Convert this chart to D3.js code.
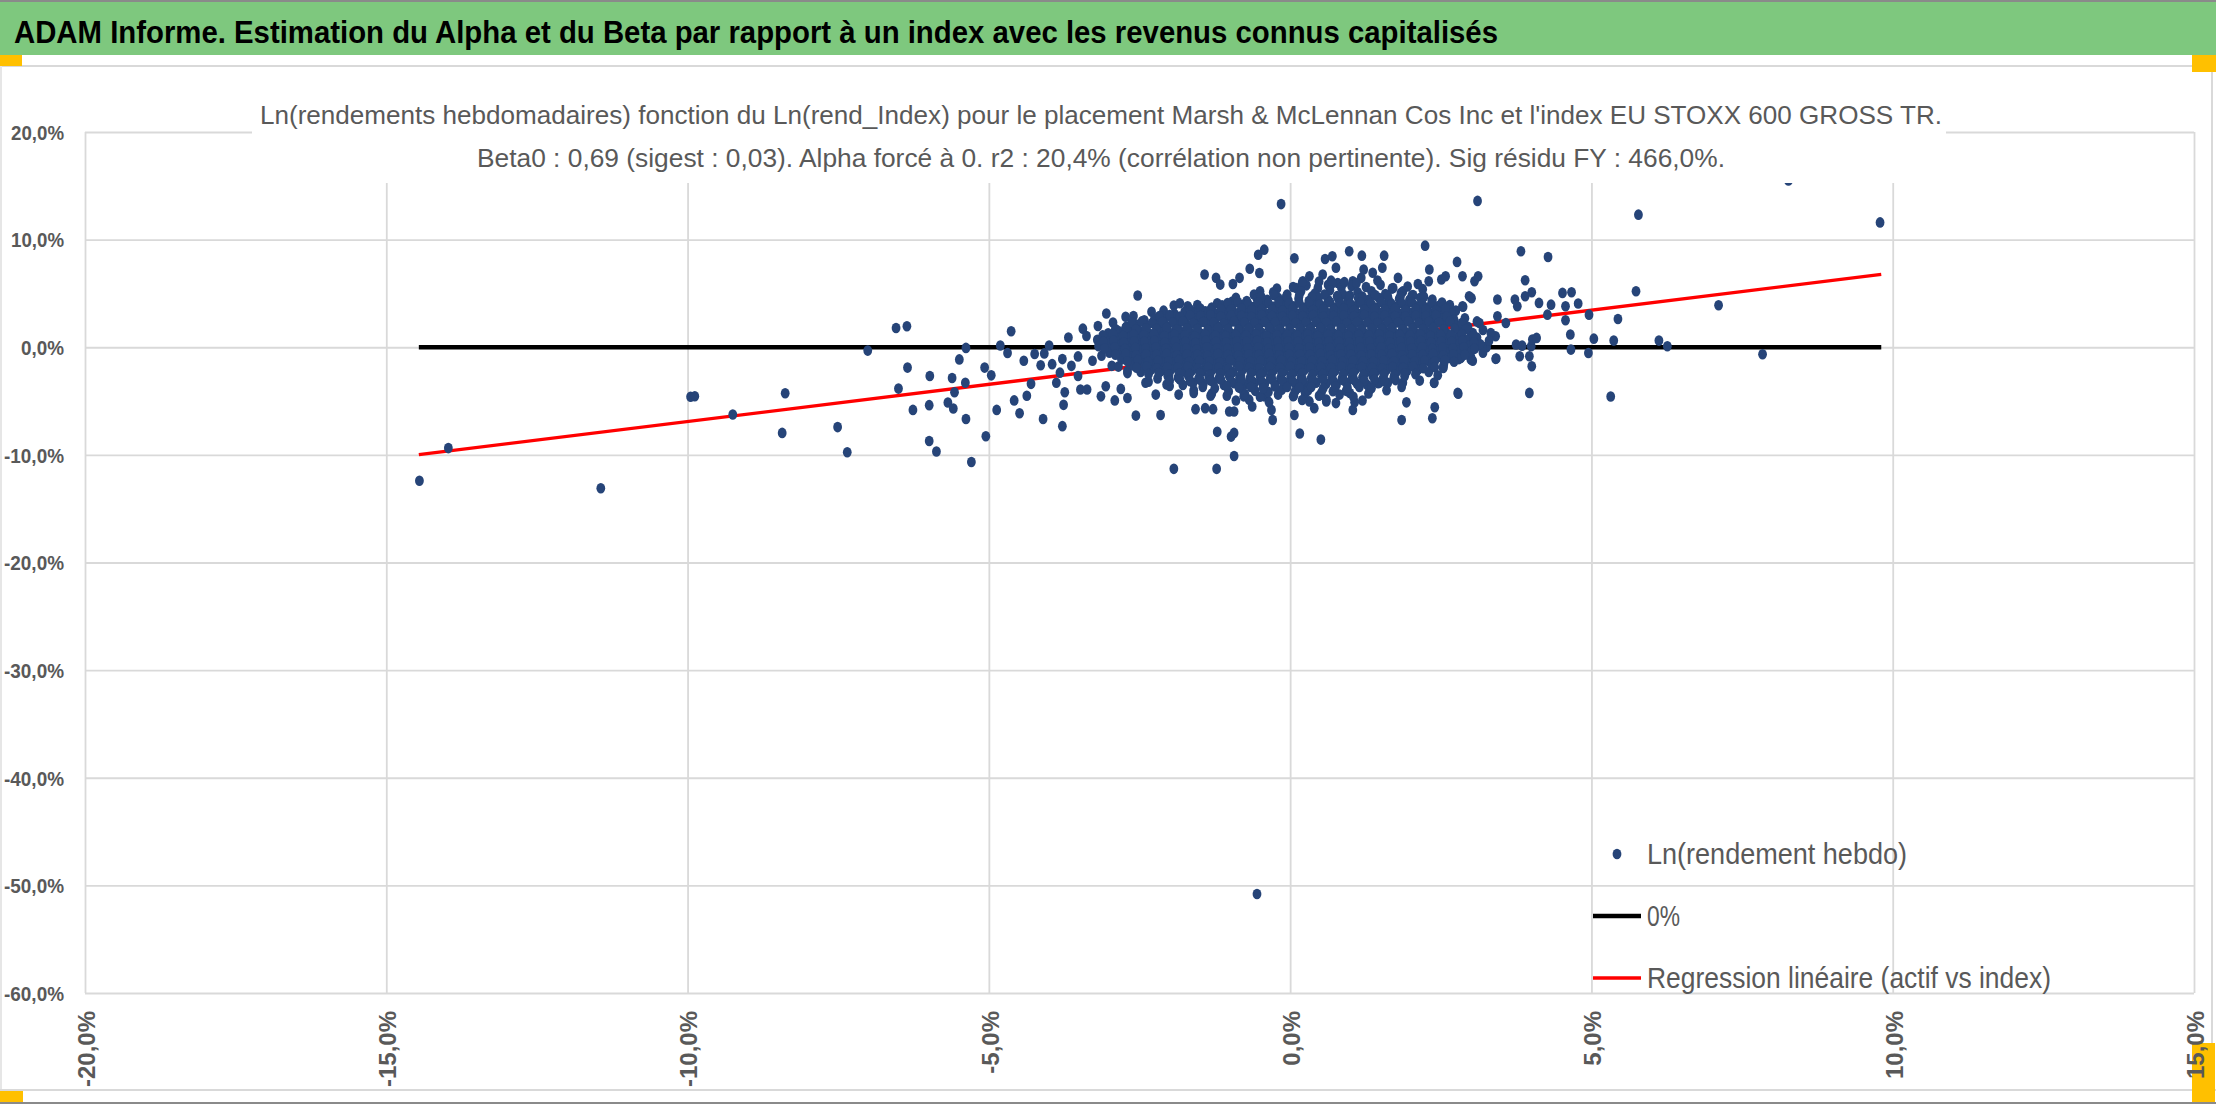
<!DOCTYPE html>
<html>
<head>
<meta charset="utf-8">
<script src="https://cdn.jsdelivr.net/npm/d3@7"></script>
<style>
  body { margin: 0; background: #fff; }
  svg { display: block; }
</style>
</head>
<body>
<script>
// -----------------------------
// Data (values in %)
// -----------------------------
const pageTitle = "ADAM Informe. Estimation du Alpha et du Beta par rapport à un index avec les revenus connus capitalisés";
const chartTitle = [
  "Ln(rendements hebdomadaires) fonction du Ln(rend_Index) pour le placement Marsh & McLennan Cos Inc et l'index EU STOXX 600 GROSS TR.",
  "Beta0 : 0,69 (sigest : 0,03). Alpha forcé à 0. r2 : 20,4% (corrélation non pertinente). Sig résidu FY : 466,0%."
];
const yTicks = [20, 10, 0, -10, -20, -30, -40, -50, -60];
const xTicks = [-20, -15, -10, -5, 0, 5, 10, 15];
const legendLabels = ["Ln(rendement hebdo)", "0%", "Regression linéaire (actif vs index)"];

const beta0 = 0.69;               // slope of the fit, alpha forced to 0
const fitRange = [-14.46, 9.81];  // x extent of the 0% line and the fit

// scattered weeks [index, asset]
const outerPoints = [
  [-14.45,-12.4],[-13.97,-9.37],[-11.44,-13.1],[-9.95,-4.6],[-9.88,-4.55],[-9.25,-6.25],[-8.38,-4.28],
  [-8.43,-7.96],[-7.51,-7.42],[-7.35,-9.75],[-7.01,-0.31],[-6.54,1.79],[-6.5,-3.84],
  [-6.36,1.95],[-6.35,-1.89],[-6.26,-5.82],[-5.98,-2.67],[-5.99,-5.38],[-5.99,-8.71],[-5.87,-9.69],
  [-5.61,-2.86],[-5.68,-5.13],[-5.59,-5.69],[-5.57,-4.18],[-5.49,-1.13],[-5.38,-0.06],[-5.39,-3.3],
  [-5.38,-6.67],[-5.29,-10.66],[-5.07,-1.89],[-4.96,-2.61],[-5.05,-8.27],[-4.87,-5.82],[-4.81,0.16],
  [-4.69,-0.53],[-4.63,1.48],[-4.58,-4.94],[-4.49,-6.13],[-4.42,-1.26],[-4.37,-4.5],[-4.3,-3.4],
  [-4.24,-0.63],[-4.1,-6.67],[-4.08,-0.57],[-4.14,-1.67],[-4.0,0.16],[-3.95,-1.57],[-3.88,-3.3],
  [-3.82,-2.36],[-3.78,-1.1],[-3.74,-4.18],[-3.76,-5.35],[-3.78,-7.33],[-3.68,0.91],[-3.63,-1.73],
  [-3.52,-0.85],[-3.52,-2.67],[-3.48,-3.93],[-3.44,1.73],[-3.38,1.04],[-3.37,-3.93],[-3.28,-1.26],
  [-3.19,1.98],[-3.13,-0.79],[-3.14,-4.56],[-3.05,3.14],[-3.06,-3.62],[-2.98,0.79],[-2.94,2.3],
  [-2.96,-1.73],[-2.91,-4.94],[-2.81,-3.87],[-2.73,2.83],[-2.69,1.73],[-2.7,-4.72],[-2.78,-1.1],
  [-2.7,-2.2],[-2.56,-6.35],[-2.53,4.81],[-2.59,0.47],[-2.43,1.48],[-2.45,-1.1],[-2.4,-3.3],
  [-2.3,3.3],[-2.26,-0.47],[-2.23,-4.4],[-2.15,-6.29],[-2.12,1.73],[-2.09,-1.73],[-2.05,-3.46],
  [-1.93,3.87],[-1.93,-11.3],[-1.83,4.09],[-1.9,1.57],[-1.87,-1.1],[-1.85,-4.4],[-1.76,0.47],
  [-1.71,-2.36],[-1.6,-4.25],[-1.57,-5.75],[-1.54,3.93],[-1.48,1.26],[-1.42,6.76],[-1.41,-5.66],
  [-1.32,-4.5],[-1.28,-5.75],[-1.23,6.45],[-1.21,-7.86],[-1.22,-11.3],[-1.16,5.82],[-1.21,4.09],
  [-1.12,3.14],[-0.98,-8.3],[-0.93,-7.96],[-0.93,-10.1],[-1.01,-5.97],[-0.93,-5.97],[-0.96,4.25],
  [-0.95,5.88],[-0.84,6.45],[-0.67,7.3],[-0.53,8.6],[-0.51,6.9],[-0.6,3.77],[-0.63,-5.5],[-0.77,-4.56],
  [-0.68,-4.87],[-0.43,-4.56],[-0.29,-6.76],[-0.31,-5.82],[0.06,-4.5],[0.07,-6.29],[0.16,-8.02],
  [0.51,-8.58],[0.32,-5.03],[0.4,-5.66],[0.6,-5.03],[0.71,-4.09],[0.76,-5.19],[0.99,-4.25],[1.04,-5.82],
  [1.07,-5.12],[1.15,-3.46],[1.48,-3.3],[1.87,-3.3],[1.93,-5.12],[1.85,-6.76],[2.36,-6.6],[2.4,-5.57],
  [2.39,-3.3],[2.54,-1.89],[2.79,-4.31],[2.84,-0.94],[3.03,-1.26],[3.26,0.0],[3.42,-1.04],
  [-0.26,3.77],[-0.07,4.56],[0.1,5.5],[0.21,6.13],[0.32,6.6],[0.54,6.76],[0.68,6.19],[0.79,5.97],
  [0.76,7.39],[1.04,6.13],[1.18,6.45],[1.37,6.92],[1.53,7.39],[1.22,7.23],[1.79,6.45],[2.12,5.88],
  [2.3,6.13],[2.31,7.23],[2.51,6.29],[2.58,6.6],[2.86,6.6],[3.06,6.13],[3.12,6.6],[3.01,4.56],
  [2.87,3.77],[2.65,3.93],[1.71,5.5],[1.87,5.19],
  [-0.15,13.3],[3.11,13.6],[-0.43,9.07],[0.07,8.27],[0.58,8.2],[0.7,8.45],[0.98,8.92],[1.19,8.51],
  [1.56,8.51],[2.24,9.44],[2.77,7.93],[3.83,8.92],[4.28,8.39],[3.9,6.22],[3.9,4.74],[4.01,5.11],
  [4.52,5.05],[4.67,5.11],[4.78,4.06],[4.13,4.12],[4.33,3.96],[4.96,3.03],[4.57,3.81],[4.27,3.03],
  [4.57,2.51],[3.77,3.81],[3.73,4.43],[3.58,2.26],[3.44,4.43],[3.44,2.88],[3.41,1.02],[3.33,1.33],
  [3.14,2.26],[2.97,4.74],[2.86,3.81],[3.03,1.33],[3.19,0.09],[3.07,-0.06],[3.41,-1.08],[3.75,0.25],
  [3.85,0.15],[4.0,0.09],[4.02,0.71],[4.09,0.87],[4.01,-1.76],[3.81,-0.84],[3.97,-0.84],[4.66,-0.22],
  [4.65,1.18],[4.95,-0.53],[5.04,0.8],[3.97,-4.24],[2.78,-4.24],[2.83,-0.99],[3.0,-1.15],[2.7,-0.22],
  [2.54,-1.92],[2.39,-3.31],[2.64,0.71],[2.7,2.88],[2.53,3.81],[2.36,4.43],
  [5.78,12.32],[9.79,11.6],[8.27,15.5],[5.74,5.2],[7.11,3.9],[5.44,2.63],[5.37,0.62],[6.12,0.62],
  [6.26,0.09],[7.84,-0.65],[5.32,-4.58],
  [-0.55,-50.8]
];

// ragged edge of the dense cloud [index, asset]
const edgePoints = [
  [0.05,5.6],[0.27,5.75],[0.46,5.5],[0.63,5.8],[0.85,5.55],[1.02,5.7],[1.26,5.6],[1.5,5.8],[1.69,5.45],[1.95,5.65],
  [2.2,5.4],[-0.22,5.45],[-0.5,5.2],[0.2,6.0],[0.48,6.1],[0.9,6.05],[1.45,6.2],[1.1,5.95],[0.7,5.95],
  [-1.7,3.8],[-2.1,3.4],[-2.6,2.9],[-0.9,4.6],[-0.6,4.9],
  [2.75,3.4],[2.9,2.7],[3.1,2.4],[3.2,1.6],[3.3,0.6],[3.2,-0.5],[3.0,-0.9],
  [-1.3,-4.3],[-1.05,-4.5],[-0.75,-4.35],[-0.5,-4.6],[-0.2,-4.4],[0.05,-4.55],[0.25,-4.3],[0.48,-4.5],[0.82,-4.4],
  [1.05,-4.6],[1.3,-4.3],[1.6,-4.0],[1.85,-3.7],[2.15,-3.1],[2.45,-2.6],[-1.6,-4.0],[-2.0,-3.6],[-2.35,-3.2],
  [-2.7,-2.4],[-2.85,-1.8],
  [-0.9,-4.95],[-0.35,-5.1],[0.2,-4.9],[0.6,-4.85],[1.2,-4.95]
];

// dense cloud of weeks around the origin [index, asset]
const corePoints = [
  [-0.28,5.1],[-0.05,4.9],[0.18,5.2],[0.41,5.0],[0.66,5.3],[0.88,4.9],[1.12,5.1],[1.35,5.2],[1.58,4.95],[1.84,5.05],[2.02,4.8],
  [-0.72,4.3],[-0.55,4.5],[-0.38,4.4],[-0.2,4.6],[-0.03,4.35],[0.14,4.5],[0.31,4.3],[0.47,4.6],[0.63,4.4],[0.8,4.5],
  [0.96,4.3],[1.13,4.55],[1.3,4.4],[1.47,4.6],[1.64,4.3],[1.81,4.5],[1.98,4.4],[2.16,4.6],[2.35,4.3],
  [-1.3,3.7],[-1.13,3.9],[-0.96,3.8],[-0.79,3.95],[-0.62,3.7],[-0.45,3.85],[-0.28,3.75],[-0.11,3.9],[0.06,3.8],[0.23,3.7],
  [0.4,3.95],[0.57,3.8],[0.74,3.7],[0.91,3.85],[1.08,3.8],[1.25,3.95],[1.42,3.7],[1.59,3.85],[1.76,3.75],[1.93,3.9],
  [2.1,3.8],[2.28,3.7],[2.47,3.85],[2.6,3.7],
  [-1.92,3.1],[-1.75,3.3],[-1.58,3.2],[-1.41,3.35],[-1.24,3.1],[-1.07,3.25],[-0.9,3.15],[-0.73,3.3],[-0.56,3.2],[-0.39,3.1],
  [-0.22,3.35],[-0.05,3.2],[0.12,3.1],[0.29,3.3],[0.46,3.2],[0.63,3.15],[0.8,3.3],[0.97,3.2],[1.14,3.1],[1.31,3.25],
  [1.48,3.2],[1.65,3.35],[1.82,3.1],[1.99,3.2],[2.16,3.3],[2.33,3.15],[2.5,3.2],[2.68,3.1],
  [-2.42,2.5],[-2.25,2.7],[-2.08,2.6],[-1.91,2.75],[-1.74,2.5],[-1.57,2.65],[-1.4,2.55],[-1.23,2.7],[-1.06,2.6],[-0.89,2.5],
  [-0.72,2.75],[-0.55,2.6],[-0.38,2.5],[-0.21,2.7],[-0.04,2.6],[0.13,2.55],[0.3,2.7],[0.47,2.6],[0.64,2.5],[0.81,2.65],
  [0.98,2.6],[1.15,2.75],[1.32,2.5],[1.49,2.6],[1.66,2.7],[1.83,2.55],[2.0,2.6],[2.17,2.7],[2.34,2.5],[2.52,2.65],[2.72,2.55],
  [-2.72,1.9],[-2.55,2.1],[-2.38,2.0],[-2.21,2.15],[-2.04,1.9],[-1.87,2.05],[-1.7,1.95],[-1.53,2.1],[-1.36,2.0],[-1.19,1.9],
  [-1.02,2.15],[-0.85,2.0],[-0.68,1.9],[-0.51,2.1],[-0.34,2.0],[-0.17,1.95],[0.0,2.1],[0.17,2.0],[0.34,1.9],[0.51,2.05],
  [0.68,2.0],[0.85,2.15],[1.02,1.9],[1.19,2.0],[1.36,2.1],[1.53,1.95],[1.7,2.0],[1.87,2.1],[2.04,1.9],[2.21,2.05],
  [2.38,1.95],[2.56,2.1],[2.75,2.0],[2.95,1.9],
  [-3.02,1.3],[-2.85,1.5],[-2.68,1.4],[-2.51,1.55],[-2.34,1.3],[-2.17,1.45],[-2.0,1.35],[-1.83,1.5],[-1.66,1.4],[-1.49,1.3],
  [-1.32,1.55],[-1.15,1.4],[-0.98,1.3],[-0.81,1.5],[-0.64,1.4],[-0.47,1.35],[-0.3,1.5],[-0.13,1.4],[0.04,1.3],[0.21,1.45],
  [0.38,1.4],[0.55,1.55],[0.72,1.3],[0.89,1.4],[1.06,1.5],[1.23,1.35],[1.4,1.4],[1.57,1.5],[1.74,1.3],[1.91,1.45],
  [2.08,1.35],[2.25,1.5],[2.42,1.4],[2.6,1.3],[2.8,1.5],[3.0,1.35],
  [-3.2,0.7],[-3.03,0.9],[-2.86,0.8],[-2.69,0.95],[-2.52,0.7],[-2.35,0.85],[-2.18,0.75],[-2.01,0.9],[-1.84,0.8],[-1.67,0.7],
  [-1.5,0.95],[-1.33,0.8],[-1.16,0.7],[-0.99,0.9],[-0.82,0.8],[-0.65,0.75],[-0.48,0.9],[-0.31,0.8],[-0.14,0.7],[0.03,0.85],
  [0.2,0.8],[0.37,0.95],[0.54,0.7],[0.71,0.8],[0.88,0.9],[1.05,0.75],[1.22,0.8],[1.39,0.9],[1.56,0.7],[1.73,0.85],
  [1.9,0.75],[2.07,0.9],[2.24,0.8],[2.41,0.7],[2.58,0.9],[2.76,0.8],[2.94,0.7],[3.1,0.9],
  [-3.18,0.1],[-3.01,0.3],[-2.84,0.2],[-2.67,0.35],[-2.5,0.1],[-2.33,0.25],[-2.16,0.15],[-1.99,0.3],[-1.82,0.2],[-1.65,0.1],
  [-1.48,0.35],[-1.31,0.2],[-1.14,0.1],[-0.97,0.3],[-0.8,0.2],[-0.63,0.15],[-0.46,0.3],[-0.29,0.2],[-0.12,0.1],[0.05,0.25],
  [0.22,0.2],[0.39,0.35],[0.56,0.1],[0.73,0.2],[0.9,0.3],[1.07,0.15],[1.24,0.2],[1.41,0.3],[1.58,0.1],[1.75,0.25],
  [1.92,0.15],[2.09,0.3],[2.26,0.2],[2.43,0.1],[2.6,0.3],[2.78,0.2],[2.96,0.1],[3.15,0.3],
  [-3.0,-0.5],[-2.83,-0.3],[-2.66,-0.4],[-2.49,-0.25],[-2.32,-0.5],[-2.15,-0.35],[-1.98,-0.45],[-1.81,-0.3],[-1.64,-0.4],[-1.47,-0.5],
  [-1.3,-0.25],[-1.13,-0.4],[-0.96,-0.5],[-0.79,-0.3],[-0.62,-0.4],[-0.45,-0.45],[-0.28,-0.3],[-0.11,-0.4],[0.06,-0.5],[0.23,-0.35],
  [0.4,-0.4],[0.57,-0.25],[0.74,-0.5],[0.91,-0.4],[1.08,-0.3],[1.25,-0.45],[1.42,-0.4],[1.59,-0.3],[1.76,-0.5],[1.93,-0.35],
  [2.1,-0.45],[2.27,-0.3],[2.44,-0.4],[2.62,-0.5],[2.8,-0.3],[2.98,-0.45],
  [-2.8,-1.1],[-2.63,-0.9],[-2.46,-1.0],[-2.29,-0.85],[-2.12,-1.1],[-1.95,-0.95],[-1.78,-1.05],[-1.61,-0.9],[-1.44,-1.0],[-1.27,-1.1],
  [-1.1,-0.85],[-0.93,-1.0],[-0.76,-1.1],[-0.59,-0.9],[-0.42,-1.0],[-0.25,-1.05],[-0.08,-0.9],[0.09,-1.0],[0.26,-1.1],[0.43,-0.95],
  [0.6,-1.0],[0.77,-0.85],[0.94,-1.1],[1.11,-1.0],[1.28,-0.9],[1.45,-1.05],[1.62,-1.0],[1.79,-0.9],[1.96,-1.1],[2.13,-0.95],
  [2.3,-1.05],[2.47,-0.9],[2.64,-1.0],[2.8,-1.1],
  [-2.6,-1.7],[-2.43,-1.5],[-2.26,-1.6],[-2.09,-1.45],[-1.92,-1.7],[-1.75,-1.55],[-1.58,-1.65],[-1.41,-1.5],[-1.24,-1.6],[-1.07,-1.7],
  [-0.9,-1.45],[-0.73,-1.6],[-0.56,-1.7],[-0.39,-1.5],[-0.22,-1.6],[-0.05,-1.65],[0.12,-1.5],[0.29,-1.6],[0.46,-1.7],[0.63,-1.55],
  [0.8,-1.6],[0.97,-1.45],[1.14,-1.7],[1.31,-1.6],[1.48,-1.5],[1.65,-1.65],[1.82,-1.6],[1.99,-1.5],[2.16,-1.7],[2.34,-1.55],[2.55,-1.6],
  [-2.48,-2.3],[-2.31,-2.1],[-2.14,-2.2],[-1.97,-2.05],[-1.8,-2.3],[-1.63,-2.15],[-1.46,-2.25],[-1.29,-2.1],[-1.12,-2.2],[-0.95,-2.3],
  [-0.78,-2.05],[-0.61,-2.2],[-0.44,-2.3],[-0.27,-2.1],[-0.1,-2.2],[0.07,-2.25],[0.24,-2.1],[0.41,-2.2],[0.58,-2.3],[0.75,-2.15],
  [0.92,-2.2],[1.09,-2.05],[1.26,-2.3],[1.43,-2.2],[1.6,-2.1],[1.77,-2.25],[1.94,-2.2],[2.12,-2.1],[2.3,-2.3],
  [-2.2,-2.9],[-2.03,-2.7],[-1.86,-2.8],[-1.69,-2.65],[-1.52,-2.9],[-1.35,-2.75],[-1.18,-2.85],[-1.01,-2.7],[-0.84,-2.8],[-0.67,-2.9],
  [-0.5,-2.65],[-0.33,-2.8],[-0.16,-2.9],[0.01,-2.7],[0.18,-2.8],[0.35,-2.85],[0.52,-2.7],[0.69,-2.8],[0.86,-2.9],[1.03,-2.75],
  [1.2,-2.8],[1.37,-2.65],[1.54,-2.9],[1.72,-2.8],[1.9,-2.7],
  [-1.78,-3.5],[-1.61,-3.3],[-1.44,-3.4],[-1.27,-3.25],[-1.1,-3.5],[-0.93,-3.35],[-0.76,-3.45],[-0.59,-3.3],[-0.42,-3.4],[-0.25,-3.5],
  [-0.08,-3.25],[0.09,-3.4],[0.26,-3.5],[0.43,-3.3],[0.6,-3.4],[0.77,-3.45],[0.94,-3.3],[1.11,-3.4],[1.28,-3.5],[1.46,-3.35],[1.62,-3.3],
  [-1.02,-4.1],[-0.8,-3.9],[-0.58,-4.05],[-0.36,-4.15],[-0.14,-3.95],[0.08,-4.1],[0.3,-4.0],[0.52,-4.2],[0.74,-3.9],[0.93,-4.05]
];

// more weeks inside the dense cloud, between the rows above [index, asset]
const coreFillPoints = [
  [-0.48,4.7],[-0.27,4.85],[-0.06,4.75],[0.15,4.8],[0.36,4.7],[0.57,4.9],[0.78,4.75],[0.99,4.8],[1.2,4.7],[1.41,4.85],
  [1.62,4.75],[1.83,4.7],[2.04,4.85],[2.22,4.7],
  [-1.04,4.1],[-0.87,4.2],[-0.7,4.05],[-0.53,4.15],[-0.36,4.1],[-0.19,4.2],[-0.02,4.05],[0.15,4.15],[0.32,4.1],[0.49,4.0],
  [0.66,4.2],[0.83,4.1],[1.0,4.05],[1.17,4.15],[1.34,4.1],[1.51,4.2],[1.68,4.05],[1.85,4.1],[2.02,4.2],[2.19,4.05],[2.36,4.1],[2.52,4.15],
  [-1.66,3.5],[-1.49,3.6],[-1.32,3.45],[-1.15,3.55],[-0.98,3.5],[-0.81,3.6],[-0.64,3.45],[-0.47,3.55],[-0.3,3.5],[-0.13,3.4],
  [0.04,3.6],[0.21,3.5],[0.38,3.45],[0.55,3.55],[0.72,3.5],[0.89,3.6],[1.06,3.45],[1.23,3.5],[1.4,3.55],[1.57,3.5],
  [1.74,3.6],[1.91,3.45],[2.08,3.55],[2.25,3.5],[2.42,3.45],[2.58,3.55],
  [-2.17,2.9],[-2.0,3.0],[-1.83,2.85],[-1.66,2.95],[-1.49,2.9],[-1.32,3.0],[-1.15,2.85],[-0.98,2.95],[-0.81,2.9],[-0.64,2.8],
  [-0.47,3.0],[-0.3,2.9],[-0.13,2.85],[0.04,2.95],[0.21,2.9],[0.38,3.0],[0.55,2.85],[0.72,2.9],[0.89,2.95],[1.06,2.9],
  [1.23,3.0],[1.4,2.85],[1.57,2.95],[1.74,2.9],[1.91,2.85],[2.08,2.95],[2.25,2.9],[2.42,3.0],[2.6,2.85],
  [-2.63,2.3],[-2.46,2.4],[-2.29,2.25],[-2.12,2.35],[-1.95,2.3],[-1.78,2.4],[-1.61,2.25],[-1.44,2.35],[-1.27,2.3],[-1.1,2.2],
  [-0.93,2.4],[-0.76,2.3],[-0.59,2.25],[-0.42,2.35],[-0.25,2.3],[-0.08,2.4],[0.09,2.25],[0.26,2.3],[0.43,2.35],[0.6,2.3],
  [0.77,2.4],[0.94,2.25],[1.11,2.35],[1.28,2.3],[1.45,2.25],[1.62,2.35],[1.79,2.3],[1.96,2.4],[2.13,2.25],[2.3,2.35],
  [2.47,2.3],[2.65,2.4],[2.85,2.25],
  [-2.9,1.7],[-2.73,1.8],[-2.56,1.65],[-2.39,1.75],[-2.22,1.7],[-2.05,1.8],[-1.88,1.65],[-1.71,1.75],[-1.54,1.7],[-1.37,1.6],
  [-1.2,1.8],[-1.03,1.7],[-0.86,1.65],[-0.69,1.75],[-0.52,1.7],[-0.35,1.8],[-0.18,1.65],[-0.01,1.7],[0.16,1.75],[0.33,1.7],
  [0.5,1.8],[0.67,1.65],[0.84,1.75],[1.01,1.7],[1.18,1.65],[1.35,1.75],[1.52,1.7],[1.69,1.8],[1.86,1.65],[2.03,1.75],
  [2.2,1.7],[2.37,1.8],[2.55,1.65],[2.73,1.75],[2.92,1.7],
  [-3.11,1.1],[-2.94,1.2],[-2.77,1.05],[-2.6,1.15],[-2.43,1.1],[-2.26,1.2],[-2.09,1.05],[-1.92,1.15],[-1.75,1.1],[-1.58,1.0],
  [-1.41,1.2],[-1.24,1.1],[-1.07,1.05],[-0.9,1.15],[-0.73,1.1],[-0.56,1.2],[-0.39,1.05],[-0.22,1.1],[-0.05,1.15],[0.12,1.1],
  [0.29,1.2],[0.46,1.05],[0.63,1.15],[0.8,1.1],[0.97,1.05],[1.14,1.15],[1.31,1.1],[1.48,1.2],[1.65,1.05],[1.82,1.15],
  [1.99,1.1],[2.16,1.2],[2.33,1.05],[2.5,1.15],[2.67,1.1],[2.85,1.2],[3.04,1.05],
  [-3.1,0.5],[-2.93,0.6],[-2.76,0.45],[-2.59,0.55],[-2.42,0.5],[-2.25,0.6],[-2.08,0.45],[-1.91,0.55],[-1.74,0.5],[-1.57,0.4],
  [-1.4,0.6],[-1.23,0.5],[-1.06,0.45],[-0.89,0.55],[-0.72,0.5],[-0.55,0.6],[-0.38,0.45],[-0.21,0.5],[-0.04,0.55],[0.13,0.5],
  [0.3,0.6],[0.47,0.45],[0.64,0.55],[0.81,0.5],[0.98,0.45],[1.15,0.55],[1.32,0.5],[1.49,0.6],[1.66,0.45],[1.83,0.55],
  [2.0,0.5],[2.17,0.6],[2.34,0.45],[2.51,0.55],[2.68,0.5],[2.86,0.6],[3.05,0.45],
  [-3.08,-0.1],[-2.91,0.0],[-2.74,-0.15],[-2.57,-0.05],[-2.4,-0.1],[-2.23,0.0],[-2.06,-0.15],[-1.89,-0.05],[-1.72,-0.1],[-1.55,-0.2],
  [-1.38,0.0],[-1.21,-0.1],[-1.04,-0.15],[-0.87,-0.05],[-0.7,-0.1],[-0.53,0.0],[-0.36,-0.15],[-0.19,-0.1],[-0.02,-0.05],[0.15,-0.1],
  [0.32,0.0],[0.49,-0.15],[0.66,-0.05],[0.83,-0.1],[1.0,-0.15],[1.17,-0.05],[1.34,-0.1],[1.51,0.0],[1.68,-0.15],[1.85,-0.05],
  [2.02,-0.1],[2.19,0.0],[2.36,-0.15],[2.53,-0.05],[2.7,-0.1],[2.88,0.0],[3.06,-0.15],
  [-2.9,-0.7],[-2.73,-0.6],[-2.56,-0.75],[-2.39,-0.65],[-2.22,-0.7],[-2.05,-0.6],[-1.88,-0.75],[-1.71,-0.65],[-1.54,-0.7],[-1.37,-0.8],
  [-1.2,-0.6],[-1.03,-0.7],[-0.86,-0.75],[-0.69,-0.65],[-0.52,-0.7],[-0.35,-0.6],[-0.18,-0.75],[-0.01,-0.7],[0.16,-0.65],[0.33,-0.7],
  [0.5,-0.6],[0.67,-0.75],[0.84,-0.65],[1.01,-0.7],[1.18,-0.75],[1.35,-0.65],[1.52,-0.7],[1.69,-0.6],[1.86,-0.75],[2.03,-0.65],
  [2.2,-0.7],[2.37,-0.6],[2.54,-0.75],[2.71,-0.65],[2.9,-0.7],
  [-2.7,-1.3],[-2.53,-1.2],[-2.36,-1.35],[-2.19,-1.25],[-2.02,-1.3],[-1.85,-1.2],[-1.68,-1.35],[-1.51,-1.25],[-1.34,-1.3],[-1.17,-1.4],
  [-1.0,-1.2],[-0.83,-1.3],[-0.66,-1.35],[-0.49,-1.25],[-0.32,-1.3],[-0.15,-1.2],[0.02,-1.35],[0.19,-1.3],[0.36,-1.25],[0.53,-1.3],
  [0.7,-1.2],[0.87,-1.35],[1.04,-1.25],[1.21,-1.3],[1.38,-1.35],[1.55,-1.25],[1.72,-1.3],[1.89,-1.2],[2.06,-1.35],[2.23,-1.25],
  [2.4,-1.3],[2.57,-1.2],[2.72,-1.35],
  [-2.55,-1.9],[-2.38,-1.8],[-2.21,-1.95],[-2.04,-1.85],[-1.87,-1.9],[-1.7,-1.8],[-1.53,-1.95],[-1.36,-1.85],[-1.19,-1.9],[-1.02,-2.0],
  [-0.85,-1.8],[-0.68,-1.9],[-0.51,-1.95],[-0.34,-1.85],[-0.17,-1.9],[0.0,-1.8],[0.17,-1.95],[0.34,-1.9],[0.51,-1.85],[0.68,-1.9],
  [0.85,-1.8],[1.02,-1.95],[1.19,-1.85],[1.36,-1.9],[1.53,-1.95],[1.7,-1.85],[1.87,-1.9],[2.04,-1.8],[2.21,-1.95],[2.4,-1.85],
  [-2.35,-2.5],[-2.18,-2.4],[-2.01,-2.55],[-1.84,-2.45],[-1.67,-2.5],[-1.5,-2.4],[-1.33,-2.55],[-1.16,-2.45],[-0.99,-2.5],[-0.82,-2.6],
  [-0.65,-2.4],[-0.48,-2.5],[-0.31,-2.55],[-0.14,-2.45],[0.03,-2.5],[0.2,-2.4],[0.37,-2.55],[0.54,-2.5],[0.71,-2.45],[0.88,-2.5],
  [1.05,-2.4],[1.22,-2.55],[1.39,-2.45],[1.56,-2.5],[1.73,-2.55],[1.9,-2.45],[2.08,-2.5],
  [-2.0,-3.1],[-1.83,-3.0],[-1.66,-3.15],[-1.49,-3.05],[-1.32,-3.1],[-1.15,-3.0],[-0.98,-3.15],[-0.81,-3.05],[-0.64,-3.1],[-0.47,-3.2],
  [-0.3,-3.0],[-0.13,-3.1],[0.04,-3.15],[0.21,-3.05],[0.38,-3.1],[0.55,-3.0],[0.72,-3.15],[0.89,-3.1],[1.06,-3.05],[1.23,-3.1],
  [1.4,-3.0],[1.57,-3.15],[1.75,-3.05],
  [-1.45,-3.7],[-1.25,-3.8],[-1.05,-3.65],[-0.85,-3.75],[-0.65,-3.7],[-0.45,-3.8],[-0.25,-3.65],[-0.05,-3.7],[0.15,-3.75],[0.35,-3.7],
  [0.55,-3.8],[0.75,-3.65],[0.95,-3.75],[1.15,-3.7],[1.35,-3.8]
];

// -----------------------------
// SVG Setup
// -----------------------------
const WIDTH = 2216;
const HEIGHT = 1104;
const FONT = "'Liberation Sans', Arial, sans-serif";
const TEXT_GREY = "#595959";
const GRID_GREY = "#d9d9d9";
const DOT_BLUE = "#264478";

const svg = d3.select("body")
  .append("svg")
  .attr("width", WIDTH)
  .attr("height", HEIGHT)
  .attr("viewBox", `0 0 ${WIDTH} ${HEIGHT}`)
  .style("background", "#fff");

// -----------------------------
// Banner and frame
// -----------------------------
function drawFrame() {
  svg.append("rect")
    .attr("x", 0).attr("y", 0)
    .attr("width", WIDTH).attr("height", 55)
    .attr("fill", "#7ec87e");
  svg.append("line")
    .attr("x1", 0).attr("x2", WIDTH).attr("y1", 1).attr("y2", 1)
    .attr("stroke", "#8a8a8a").attr("stroke-width", 2);

  svg.append("text")
    .attr("x", 14)
    .attr("y", 43)
    .attr("font-family", FONT)
    .attr("font-size", 32)
    .attr("font-weight", "bold")
    .attr("fill", "#000")
    .attr("textLength", 1484)
    .attr("lengthAdjust", "spacingAndGlyphs")
    .text(pageTitle);

  // thin separator under the banner
  svg.append("line")
    .attr("x1", 0).attr("x2", WIDTH).attr("y1", 66).attr("y2", 66)
    .attr("stroke", GRID_GREY).attr("stroke-width", 2);

  // chart area border
  svg.append("line")
    .attr("x1", 1).attr("x2", 1).attr("y1", 66).attr("y2", 1090)
    .attr("stroke", "#e6e6e6").attr("stroke-width", 2);
  svg.append("line")
    .attr("x1", 2212).attr("x2", 2212).attr("y1", 66).attr("y2", 1090)
    .attr("stroke", GRID_GREY).attr("stroke-width", 2);
  svg.append("line")
    .attr("x1", 0).attr("x2", WIDTH).attr("y1", 1090).attr("y2", 1090)
    .attr("stroke", GRID_GREY).attr("stroke-width", 2);
  svg.append("line")
    .attr("x1", 0).attr("x2", WIDTH).attr("y1", 1103).attr("y2", 1103)
    .attr("stroke", "#8a8a8a").attr("stroke-width", 2);

  // selection handles
  const handles = [[0, 55, 22, 11], [2192, 55, 24, 17], [0, 1091, 23, 11], [2192, 1043, 23, 59]];
  svg.selectAll("rect.handle")
    .data(handles)
    .enter()
    .append("rect")
    .attr("class", "handle")
    .attr("x", d => d[0]).attr("y", d => d[1])
    .attr("width", d => d[2]).attr("height", d => d[3])
    .attr("fill", "#ffc000");
}

drawFrame();

// -----------------------------
// Scales and axes
// -----------------------------
const PLOT = { left: 85, right: 2194, top: 132, bottom: 993 };

const x = d3.scaleLinear().domain([-20, 15]).range([PLOT.left, PLOT.right]);
const y = d3.scaleLinear().domain([-60, 20]).range([PLOT.bottom, PLOT.top]);

const fmtPct = d => d3.format(".1f")(d).replace(".", ",").replace("−", "-") + "%";

const yAxis = d3.axisLeft(y)
  .tickValues(yTicks)
  .tickFormat(fmtPct)
  .tickSize(-(PLOT.right - PLOT.left))
  .tickPadding(21);

const xAxis = d3.axisBottom(x)
  .tickValues(xTicks)
  .tickFormat(fmtPct)
  .tickSize(-(PLOT.bottom - PLOT.top));

const gy = svg.append("g")
  .attr("transform", `translate(${PLOT.left},0)`)
  .call(yAxis);

const gx = svg.append("g")
  .attr("transform", `translate(0,${PLOT.bottom})`)
  .call(xAxis);

[gx, gy].forEach(g => {
  g.select(".domain").remove();
  g.selectAll(".tick line")
    .attr("stroke", GRID_GREY)
    .attr("stroke-width", 1.8);
  g.selectAll(".tick text")
    .attr("font-family", FONT)
    .attr("font-weight", "bold")
    .attr("fill", TEXT_GREY);
});

// y labels are drawn tall and narrow, like the reference
const yLabelWidth = d => (d < 0 ? 60 : Math.abs(d) >= 10 ? 53 : 43);
gy.selectAll(".tick text")
  .attr("font-size", 21)
  .attr("dy", "0.35em")
  .attr("textLength", yLabelWidth)
  .attr("lengthAdjust", "spacingAndGlyphs");

gx.selectAll(".tick text")
  .attr("font-size", 24)
  .attr("transform", "rotate(-90)")
  .attr("text-anchor", "end")
  .attr("x", -18)
  .attr("y", 1)
  .attr("dy", "0.35em");

// -----------------------------
// Lines and points
// -----------------------------
const line = d3.line().x(d => x(d[0])).y(d => y(d[1]));

svg.append("path")
  .datum(fitRange.map(v => [v, 0]))
  .attr("d", line)
  .attr("fill", "none")
  .attr("stroke", "#000")
  .attr("stroke-width", 4.3);

svg.append("path")
  .datum(fitRange.map(v => [v, beta0 * v]))
  .attr("d", line)
  .attr("fill", "none")
  .attr("stroke", "#ff0000")
  .attr("stroke-width", 3.4);

svg.append("g")
  .attr("class", "points")
  .selectAll("ellipse")
  .data(outerPoints.concat(edgePoints, corePoints, coreFillPoints))
  .enter()
  .append("ellipse")
  .attr("cx", d => x(d[0]))
  .attr("cy", d => y(d[1]))
  .attr("rx", 4.4)
  .attr("ry", 5.3)
  .attr("fill", DOT_BLUE);

// -----------------------------
// Chart title (white box over the plot)
// -----------------------------
svg.append("rect")
  .attr("x", 252).attr("y", 90)
  .attr("width", 1946 - 252).attr("height", 183 - 90)
  .attr("fill", "#fff");

const titleWidths = [1682, 1248];
const titleBaselines = [124, 167];
svg.selectAll("text.chart-title")
  .data(chartTitle)
  .enter()
  .append("text")
  .attr("class", "chart-title")
  .attr("x", 1101)
  .attr("y", (d, i) => titleBaselines[i])
  .attr("text-anchor", "middle")
  .attr("font-family", FONT)
  .attr("font-size", 26)
  .attr("fill", TEXT_GREY)
  .attr("textLength", (d, i) => titleWidths[i])
  .attr("lengthAdjust", "spacingAndGlyphs")
  .text(d => d);

// -----------------------------
// Legend
// -----------------------------
const LEGEND = { x: 1593, y: 854, step: 62, textX: 1647 };
const legendWidths = [260, 33, 404];
const legend = svg.append("g").attr("class", "legend");

legend.append("ellipse")
  .attr("cx", 1617).attr("cy", LEGEND.y)
  .attr("rx", 4.4).attr("ry", 5.3)
  .attr("fill", DOT_BLUE);

[["#000", 4.3], ["#ff0000", 3.4]].forEach(([color, w], i) => {
  legend.append("line")
    .attr("x1", LEGEND.x).attr("x2", LEGEND.x + 48)
    .attr("y1", LEGEND.y + LEGEND.step * (i + 1))
    .attr("y2", LEGEND.y + LEGEND.step * (i + 1))
    .attr("stroke", color)
    .attr("stroke-width", w);
});

legend.selectAll("text")
  .data(legendLabels)
  .enter()
  .append("text")
  .attr("x", LEGEND.textX)
  .attr("y", (d, i) => LEGEND.y + LEGEND.step * i)
  .attr("dy", "0.35em")
  .attr("font-family", FONT)
  .attr("font-size", 29)
  .attr("fill", TEXT_GREY)
  .attr("textLength", (d, i) => legendWidths[i])
  .attr("lengthAdjust", "spacingAndGlyphs")
  .text(d => d);
</script>
</body>
</html>
